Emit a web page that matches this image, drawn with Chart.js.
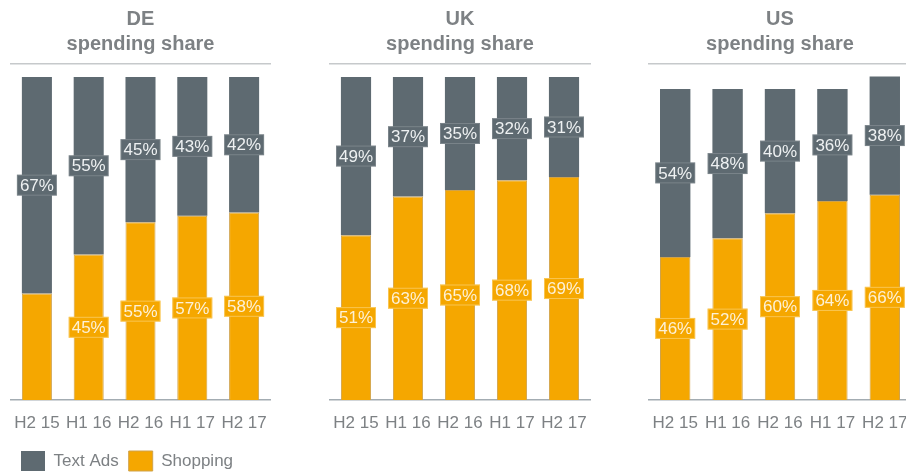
<!DOCTYPE html>
<html>
<head>
<meta charset="utf-8">
<script src="https://cdn.jsdelivr.net/npm/chart.js@4/dist/chart.umd.min.js"></script>
<style>
  html, body { margin: 0; padding: 0; background: #fff; }
  body { width: 906px; height: 473px; overflow: hidden; position: relative; }
  canvas { position: absolute; top: 0; }
</style>
</head>
<body>
<canvas id="de" width="281" height="473" style="left:0px"></canvas>
<canvas id="uk" width="282" height="473" style="left:319px"></canvas>
<canvas id="us" width="284" height="473" style="left:638px"></canvas>
<script>
const periods = ['H2 15', 'H1 16', 'H2 16', 'H1 17', 'H2 17'];

const deTextAds = [67, 55, 45, 43, 42];
const deShopping = [33, 45, 55, 57, 58];
const ukTextAds = [49, 37, 35, 32, 31];
const ukShopping = [51, 63, 65, 68, 69];
const usTextAds = [54, 48, 40, 36, 38];
const usShopping = [46, 52, 60, 64, 66];

// bars whose value has no label box
const deShoppingNoLabel = [0];

const grey = '#5e6a71';
const orange = '#f5a700';
const textGrey = '#7d8184';
const fontFamily = '"Liberation Sans", Arial, sans-serif';

// value box drawn in the middle of every stacked segment
const segmentLabels = {
  id: 'segmentLabels',
  afterDatasetsDraw(chart) {
    const ctx = chart.ctx;
    chart.data.datasets.forEach((ds, i) => {
      const meta = chart.getDatasetMeta(i);
      meta.data.forEach((bar, j) => {
        if ((ds.noLabel || []).includes(j)) return;
        const cy = (bar.y + bar.base) / 2;
        const w = 40, h = 21;
        ctx.save();
        ctx.fillStyle = ds.backgroundColor;
        ctx.fillRect(bar.x - w / 2, cy - h / 2, w, h);
        ctx.strokeStyle = ds.boxEdge;
        ctx.lineWidth = 1;
        ctx.strokeRect(bar.x - w / 2 + 0.5, cy - h / 2 + 0.5, w - 1, h - 1);
        ctx.fillStyle = ds.labelColor;
        ctx.font = '17px ' + fontFamily;
        ctx.textAlign = 'center';
        ctx.textBaseline = 'middle';
        ctx.fillText(ds.data[j] + '%', bar.x, cy + 1);
        ctx.restore();
      });
    });
  }
};

let makeChart = (id, country, textAds, shopping, yMax, withLegend, shoppingNoLabel) => {
  let config = {
    type: 'bar',
    data: {
      labels: periods,
      datasets: [
        {
          label: 'Shopping',
          data: shopping,
          backgroundColor: orange,
          borderColor: '#cfa24a',
          borderWidth: 1,
          labelColor: '#fdf1d6',
          boxEdge: 'rgba(255,236,180,0.45)',
          noLabel: shoppingNoLabel,
          categoryPercentage: 1,
          barPercentage: 0.58
        },
        {
          label: 'Text Ads',
          data: textAds,
          backgroundColor: grey,
          borderWidth: 0,
          labelColor: '#eef1f2',
          boxEdge: 'rgba(255,255,255,0.18)',
          noLabel: [],
          categoryPercentage: 1,
          barPercentage: 0.58
        }
      ]
    },
    options: {
      responsive: false,
      animation: false,
      layout: { padding: { left: 11, right: 11, top: 0, bottom: withLegend ? 0 : 32 } },
      scales: {
        x: {
          stacked: true,
          grid: { display: false, drawTicks: false },
          border: { display: true, color: '#a3acb2', width: 1.5 },
          ticks: {
            color: textGrey,
            padding: 13,
            font: { family: fontFamily, size: 17 }
          },
          afterFit: (scale) => { scale.height = 41; }
        },
        xTop: {
          type: 'category',
          labels: periods,
          position: 'top',
          grid: { display: false, drawTicks: false },
          border: { display: true, color: '#c6c9cb', width: 1.5 },
          ticks: { display: false },
          afterFit: (scale) => { scale.height = 0; }
        },
        y: {
          stacked: true,
          display: false,
          min: 0,
          max: yMax
        }
      },
      plugins: {
        title: {
          display: true,
          text: [country, 'spending share'],
          color: textGrey,
          font: { family: fontFamily, size: 20, weight: 'bold', lineHeight: 1.25 },
          padding: { top: 7, bottom: 7 }
        },
        legend: {
          display: withLegend,
          position: 'bottom',
          align: 'start',
          reverse: true,
          maxHeight: 32,
          labels: {
            boxWidth: 24,
            boxHeight: 20,
            padding: 10,
            color: textGrey,
            font: { family: fontFamily, size: 17 }
          }
        },
        tooltip: { enabled: false }
      }
    },
    plugins: [segmentLabels]
  };
  return new Chart(document.getElementById(id), config);
};

makeChart('de', 'DE', deTextAds, deShopping, 104, true, deShoppingNoLabel);
makeChart('uk', 'UK', ukTextAds, ukShopping, 104, false, []);
makeChart('us', 'US', usTextAds, usShopping, 108, false, []);
</script>
</body>
</html>
